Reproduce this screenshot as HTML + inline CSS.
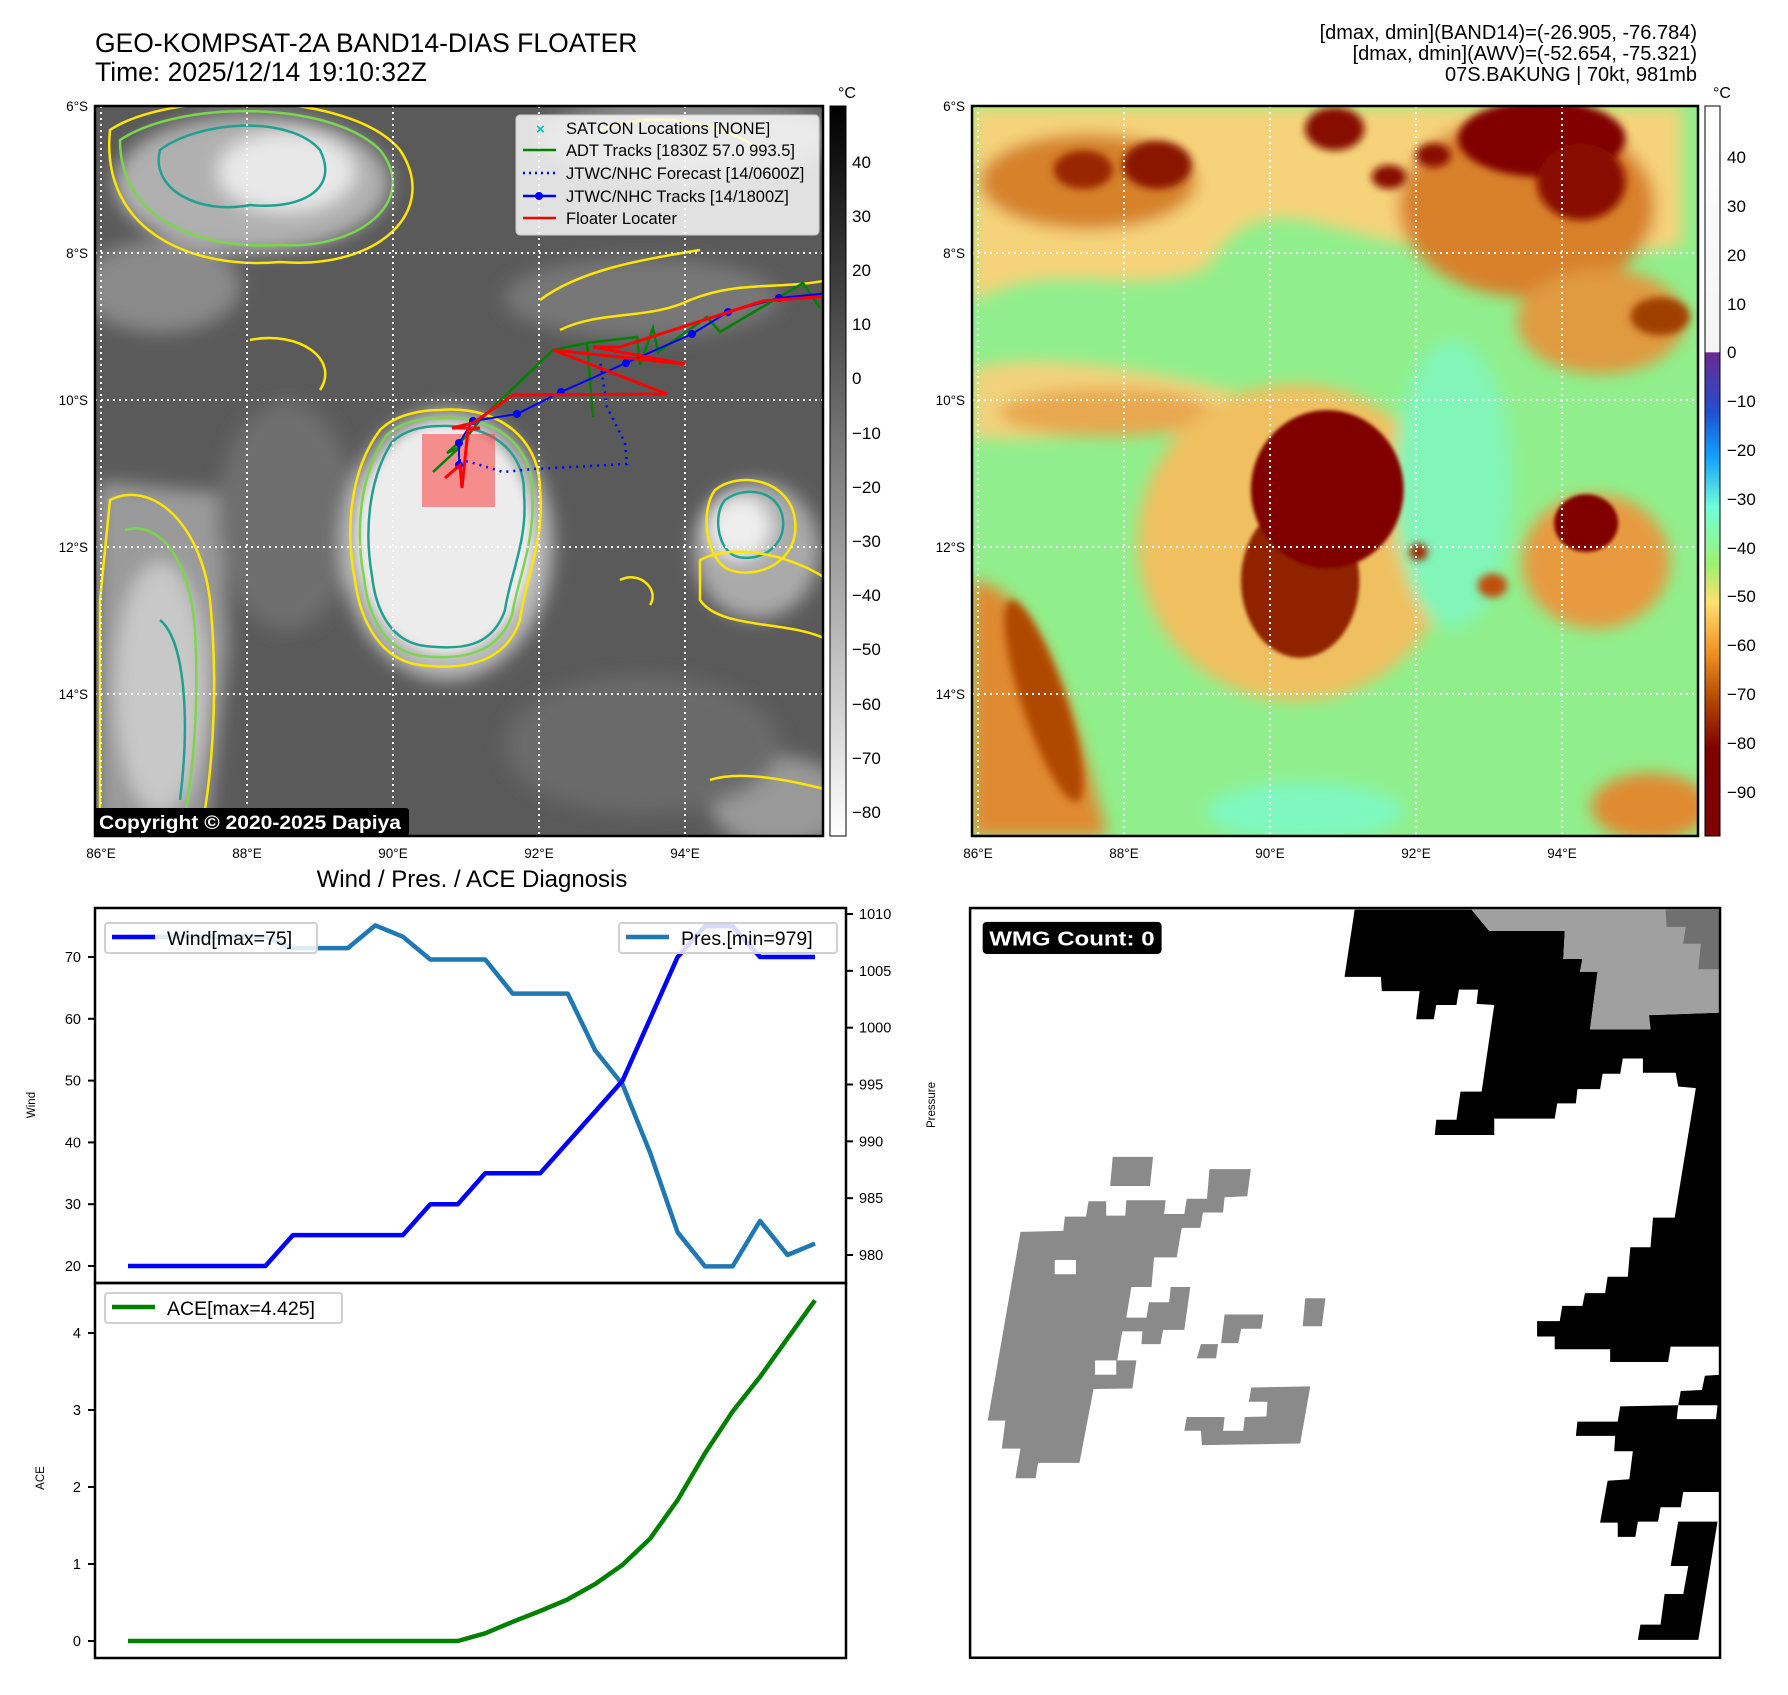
<!DOCTYPE html>
<html><head><meta charset="utf-8"><style>
html,body{margin:0;padding:0;background:#fff}
svg{display:block}
text{font-family:"Liberation Sans","DejaVu Sans",sans-serif}
</style></head><body>
<svg id="root" width="1788" height="1695" viewBox="0 0 1788 1695" xmlns="http://www.w3.org/2000/svg">
<defs>
<filter id="b8" x="-20%" y="-20%" width="140%" height="140%"><feGaussianBlur stdDeviation="8"/></filter>
<filter id="b4" x="-20%" y="-20%" width="140%" height="140%"><feGaussianBlur stdDeviation="4"/></filter>
<filter id="b16" x="-30%" y="-30%" width="160%" height="160%"><feGaussianBlur stdDeviation="16"/></filter>
<clipPath id="clipL"><rect x="95" y="106" width="728" height="730"/></clipPath>
<clipPath id="clipR"><rect x="972" y="106" width="726" height="730"/></clipPath>
<linearGradient id="gbar" x1="0" y1="0" x2="0" y2="1"><stop offset="0" stop-color="#000"/><stop offset="1" stop-color="#fff"/></linearGradient>
<linearGradient id="cbar" x1="0" y1="0" x2="0" y2="1">
<stop offset="0" stop-color="#fff"/><stop offset="0.337" stop-color="#f4f4f4"/>
<stop offset="0.338" stop-color="#6a2a90"/><stop offset="0.42" stop-color="#2050d0"/>
<stop offset="0.48" stop-color="#10a0ff"/><stop offset="0.55" stop-color="#70ffd8"/>
<stop offset="0.63" stop-color="#a0f070"/><stop offset="0.68" stop-color="#ffe070"/>
<stop offset="0.75" stop-color="#f09020"/><stop offset="0.82" stop-color="#b04000"/>
<stop offset="0.88" stop-color="#800000"/><stop offset="1" stop-color="#800000"/></linearGradient>
</defs>

<text x="95" y="52" font-size="26.5">GEO-KOMPSAT-2A BAND14-DIAS FLOATER</text>
<text x="95" y="81" font-size="26.5">Time: 2025/12/14 19:10:32Z</text>
<g font-size="20" text-anchor="end">
<text x="1697" y="39">[dmax, dmin](BAND14)=(-26.905, -76.784)</text>
<text x="1697" y="60">[dmax, dmin](AWV)=(-52.654, -75.321)</text>
<text x="1697" y="81">07S.BAKUNG | 70kt, 981mb</text>
</g>

<!-- LEFT MAP -->
<g clip-path="url(#clipL)">
<rect x="95" y="106" width="728" height="730" fill="#5a5a5a"/>
<g transform="scale(1.14615)">
<g filter="url(#b8)">
<ellipse cx="220" cy="160" rx="120" ry="60" fill="#b0b0b0"/>
<ellipse cx="250" cy="150" rx="60" ry="35" fill="#e8e8e8"/>
<ellipse cx="140" cy="250" rx="70" ry="40" fill="#8a8a8a"/>
<ellipse cx="600" cy="120" rx="130" ry="35" fill="#8a8a8a"/>
<ellipse cx="560" cy="260" rx="120" ry="35" fill="#777"/>
<path d="M90 420 L190 430 L200 560 L180 731 L84 731 L84 430Z" fill="#9a9a9a"/>
<ellipse cx="140" cy="600" rx="40" ry="110" fill="#c8c8c8"/>
<ellipse cx="660" cy="480" rx="55" ry="60" fill="#aaa"/>
<ellipse cx="645" cy="460" rx="28" ry="28" fill="#eee"/>
<ellipse cx="680" cy="700" rx="60" ry="40" fill="#999"/>
<ellipse cx="250" cy="450" rx="60" ry="100" fill="#6e6e6e"/>
<ellipse cx="560" cy="650" rx="120" ry="60" fill="#6a6a6a"/>
<ellipse cx="390" cy="475" rx="92" ry="118" fill="#bdbdbd"/>
</g>
<g filter="url(#b4)"><ellipse cx="388" cy="470" rx="76" ry="100" fill="#ececec"/></g>
</g>
<g fill="none" stroke-width="2.5">
<path d="M440 410 C500 405 540 440 540 490 C545 540 525 580 520 620 C505 665 460 670 420 665 C380 660 360 620 355 580 C345 530 350 470 380 430 C395 415 420 410 440 410Z" stroke="#ffe600"/>
<path d="M440 418 C495 415 533 445 532 492 C536 540 518 578 512 615 C498 655 460 660 422 656 C385 652 368 615 364 578 C355 530 360 474 386 436 C400 422 420 418 440 418Z" stroke="#7cd64c"/>
<path d="M440 426 C490 424 525 450 524 494 C528 540 510 575 505 610 C492 648 460 650 425 646 C392 642 376 612 372 576 C364 530 369 478 392 442 C405 430 422 426 440 426Z" stroke="#20a090"/>
<path d="M160 150 C200 120 290 115 320 150 C340 190 300 210 250 205 C200 215 150 190 160 150Z" stroke="#20a090"/>
<path d="M120 140 C180 100 330 100 380 150 C420 200 360 250 280 245 C200 250 120 220 120 140Z" stroke="#7cd64c"/>
<path d="M110 130 C170 90 350 90 400 150 C440 210 380 270 280 262 C190 270 100 230 110 130Z" stroke="#ffe600"/>
<path d="M110 500 C150 480 200 520 210 600 C220 700 210 790 200 836 L100 836 L100 600Z" stroke="#ffe600"/>
<path d="M125 530 C160 520 190 560 195 630 C200 720 190 800 180 836" stroke="#7cd64c"/>
<path d="M160 620 C185 640 190 720 180 800" stroke="#20a090"/>
<path d="M715 490 C740 470 790 480 795 520 C800 560 760 580 730 570 C705 560 700 510 715 490Z" stroke="#ffe600"/>
<path d="M725 500 C745 485 780 490 783 520 C786 550 755 563 735 556 C717 548 713 514 725 500Z" stroke="#20a090"/>
<path d="M700 560 C740 540 800 560 828 580 L828 640 C790 620 720 630 700 600Z" stroke="#ffe600"/>
<path d="M560 330 C600 310 650 320 690 300 C740 280 780 290 828 280" stroke="#ffe600"/>
<path d="M540 300 C580 270 640 260 700 250" stroke="#ffe600"/>
<path d="M600 130 C650 110 720 120 760 150" stroke="#ffe600"/>
<path d="M250 340 C300 330 340 360 320 390" stroke="#ffe600"/>
<path d="M620 580 C640 570 660 590 650 605" stroke="#ffe600"/>
<path d="M710 780 C740 770 790 780 828 790" stroke="#ffe600"/>
</g>
<g stroke="#fff" stroke-width="2" stroke-dasharray="2,4">
<line x1="247" y1="106" x2="247" y2="836"/><line x1="393" y1="106" x2="393" y2="836"/><line x1="539" y1="106" x2="539" y2="836"/><line x1="685" y1="106" x2="685" y2="836"/><line x1="101" y1="106" x2="101" y2="836"/>
<line x1="95" y1="253" x2="823" y2="253"/><line x1="95" y1="400" x2="823" y2="400"/><line x1="95" y1="547" x2="823" y2="547"/><line x1="95" y1="694" x2="823" y2="694"/>
</g>
<rect x="422" y="434" width="73" height="73" fill="#ff4040" fill-opacity="0.55"/>
<polyline points="459,460 470,462 503,472 533,469 627,464 625,443 607,407 600,360" fill="none" stroke="#0000ff" stroke-width="2.5" stroke-dasharray="2,5"/>
<polyline points="433,472 460,447 447,453 470,433 480,420 553,350 587,343 593,417 587,343 637,337 640,365 653,328 658,352 707,317 720,332 803,283 820,308" fill="none" stroke="#008000" stroke-width="2.5"/>
<g>
<polyline points="459,465 459,443 473,421 517,414 561,392 626,363 692,334 728,312 779,298 830,293" fill="none" stroke="#0000ff" stroke-width="2"/>
<g fill="#0000ff"><circle cx="459" cy="465" r="4"/><circle cx="459" cy="443" r="4"/><circle cx="473" cy="421" r="4"/><circle cx="517" cy="414" r="4"/><circle cx="561" cy="392" r="4"/><circle cx="626" cy="363" r="4"/><circle cx="692" cy="334" r="4"/><circle cx="728" cy="312" r="4"/><circle cx="779" cy="298" r="4"/></g>
</g>
<polyline points="445,478 460,465 462,488 468,430 480,428 452,428 473,423 513,395 667,394 553,350 685,364 593,347 620,347 763,301 830,296" fill="none" stroke="#ff0000" stroke-width="3"/>
</g>
<rect x="95" y="106" width="728" height="730" fill="none" stroke="#000" stroke-width="2.5"/>
<g>
<rect x="516" y="115" width="303" height="120" rx="4" fill="#fff" fill-opacity="0.82" stroke="#ccc"/>
<g font-size="16.5">
<text x="536" y="134" fill="#00bfbf" font-size="15" font-weight="bold">×</text><text x="566" y="134">SATCON Locations [NONE]</text>
<line x1="523" y1="150" x2="556" y2="150" stroke="#008000" stroke-width="2.5"/><text x="566" y="156">ADT Tracks [1830Z 57.0 993.5]</text>
<line x1="523" y1="173" x2="556" y2="173" stroke="#0000ff" stroke-width="2.5" stroke-dasharray="2,4"/><text x="566" y="179">JTWC/NHC Forecast [14/0600Z]</text>
<line x1="523" y1="196" x2="556" y2="196" stroke="#0000ff" stroke-width="2.5"/><circle cx="539" cy="196" r="4" fill="#0000ff"/><text x="566" y="202">JTWC/NHC Tracks [14/1800Z]</text>
<line x1="523" y1="218" x2="556" y2="218" stroke="#ff0000" stroke-width="2.5"/><text x="566" y="224">Floater Locater</text>
</g></g>
<rect x="94" y="808" width="315" height="28" rx="3" fill="#000"/>
<text x="99" y="829" font-size="19" font-weight="bold" fill="#fff" textLength="302" lengthAdjust="spacingAndGlyphs" font-family="DejaVu Sans, sans-serif">Copyright © 2020-2025 Dapiya</text>
<g font-size="13.5">
<g text-anchor="end"><text x="88" y="111">6°S</text><text x="88" y="258">8°S</text><text x="88" y="405">10°S</text><text x="88" y="552">12°S</text><text x="88" y="699">14°S</text></g>
<g text-anchor="middle"><text x="101" y="858">86°E</text><text x="247" y="858">88°E</text><text x="393" y="858">90°E</text><text x="539" y="858">92°E</text><text x="685" y="858">94°E</text></g>
</g>
<g>
<rect x="830" y="106" width="16" height="730" fill="url(#gbar)" stroke="#000"/>
<text x="847" y="98" font-size="16" text-anchor="middle">°C</text>
<g font-size="17"><text x="852" y="168">40</text><text x="852" y="222">30</text><text x="852" y="276">20</text><text x="852" y="330">10</text><text x="852" y="384">0</text><text x="852" y="439">−10</text><text x="852" y="493">−20</text><text x="852" y="547">−30</text><text x="852" y="601">−40</text><text x="852" y="655">−50</text><text x="852" y="710">−60</text><text x="852" y="764">−70</text><text x="852" y="818">−80</text></g>
</g>

<!-- RIGHT MAP -->
<g clip-path="url(#clipR)">
<rect x="972" y="106" width="726" height="730" fill="#90ef8c"/>
<g transform="translate(960,100) scale(0.493,0.4808)">
<g filter="url(#b16)">
<path d="M22 15 L1465 15 L1465 300 C1300 350 1100 250 900 300 C700 260 600 180 500 350 C350 420 200 320 22 420Z" fill="#f6d37a"/>
<path d="M22 560 C150 520 400 560 600 620 L500 700 C300 680 150 720 22 700Z" fill="#f2d27c"/>
<ellipse cx="260" cy="170" rx="220" ry="100" fill="#d6822c"/>
<ellipse cx="1150" cy="220" rx="260" ry="190" fill="#d8802c"/>
<ellipse cx="1300" cy="460" rx="170" ry="110" fill="#e09a40"/>
<ellipse cx="300" cy="650" rx="220" ry="50" fill="#e8a850"/>
<ellipse cx="680" cy="920" rx="320" ry="330" fill="#f0c060"/>
<ellipse cx="1290" cy="960" rx="150" ry="140" fill="#e89a40"/>
<path d="M22 1000 C120 1000 200 1150 300 1532 L22 1532Z" fill="#e08a30"/>
<ellipse cx="1400" cy="1470" rx="120" ry="70" fill="#e08a30"/>
<ellipse cx="700" cy="1480" rx="200" ry="60" fill="#7ff8c0"/>
<ellipse cx="1000" cy="800" rx="120" ry="300" fill="#82f5b8"/>
</g>
<g filter="url(#b8)">
<ellipse cx="400" cy="135" rx="70" ry="50" fill="#8a1800"/>
<ellipse cx="250" cy="145" rx="60" ry="40" fill="#982800"/>
<ellipse cx="760" cy="60" rx="60" ry="45" fill="#860800"/>
<ellipse cx="1180" cy="80" rx="170" ry="80" fill="#800000"/>
<ellipse cx="1260" cy="170" rx="90" ry="80" fill="#880800"/>
<ellipse cx="870" cy="160" rx="35" ry="25" fill="#880800"/>
<ellipse cx="960" cy="115" rx="35" ry="25" fill="#880800"/>
<ellipse cx="1420" cy="450" rx="60" ry="40" fill="#a04000"/>
<ellipse cx="170" cy="1250" rx="45" ry="220" fill="#b04800" transform="rotate(-18 170 1250)"/>
<ellipse cx="1080" cy="1010" rx="30" ry="25" fill="#c05010"/>
<ellipse cx="930" cy="940" rx="18" ry="18" fill="#a02800"/>
</g>
<g filter="url(#b4)">
<ellipse cx="690" cy="1000" rx="120" ry="160" fill="#902000"/>
<ellipse cx="745" cy="810" rx="155" ry="165" fill="#800000"/>
<ellipse cx="1270" cy="880" rx="65" ry="60" fill="#800000"/>
</g>
</g>
<g stroke="#fff" stroke-width="2" stroke-dasharray="2,4">
<line x1="978" y1="106" x2="978" y2="836"/><line x1="1124" y1="106" x2="1124" y2="836"/><line x1="1270" y1="106" x2="1270" y2="836"/><line x1="1416" y1="106" x2="1416" y2="836"/><line x1="1562" y1="106" x2="1562" y2="836"/>
<line x1="972" y1="253" x2="1698" y2="253"/><line x1="972" y1="400" x2="1698" y2="400"/><line x1="972" y1="547" x2="1698" y2="547"/><line x1="972" y1="694" x2="1698" y2="694"/>
</g>
</g>
<rect x="972" y="106" width="726" height="730" fill="none" stroke="#000" stroke-width="2.5"/>
<g font-size="13.5">
<g text-anchor="end"><text x="965" y="111">6°S</text><text x="965" y="258">8°S</text><text x="965" y="405">10°S</text><text x="965" y="552">12°S</text><text x="965" y="699">14°S</text></g>
<g text-anchor="middle"><text x="978" y="858">86°E</text><text x="1124" y="858">88°E</text><text x="1270" y="858">90°E</text><text x="1416" y="858">92°E</text><text x="1562" y="858">94°E</text></g>
</g>
<g>
<rect x="1705" y="106" width="15" height="730" fill="url(#cbar)" stroke="#000"/>
<text x="1722" y="98" font-size="16" text-anchor="middle">°C</text>
<g font-size="17"><text x="1727" y="163">40</text><text x="1727" y="212">30</text><text x="1727" y="261">20</text><text x="1727" y="310">10</text><text x="1727" y="358">0</text><text x="1727" y="407">−10</text><text x="1727" y="456">−20</text><text x="1727" y="505">−30</text><text x="1727" y="554">−40</text><text x="1727" y="602">−50</text><text x="1727" y="651">−60</text><text x="1727" y="700">−70</text><text x="1727" y="749">−80</text><text x="1727" y="798">−90</text></g>
</g>

<!-- WMG panel -->
<g transform="translate(960,880) scale(0.504,0.510)">
<rect x="20" y="55" width="1488" height="1470" fill="#fff"/>
<polygon fill="#000" points="783,58 1015,58 1050,100 1200,100 1197,155 1235,155 1230,180 1265,180 1250,293 1370,293 1367,265 1508,260 1508,915 1410,915 1405,945 1290,945 1290,920 1180,920 1180,895 1145,895 1145,865 1190,865 1195,835 1235,835 1240,810 1280,810 1285,778 1325,778 1330,720 1370,720 1375,662 1418,662 1460,408 1425,405 1420,378 1355,378 1355,350 1315,350 1310,380 1275,380 1270,410 1225,410 1222,438 1185,438 1180,468 1060,468 1060,500 942,500 945,470 985,470 993,415 1035,415 1060,245 1025,243 1028,215 990,215 985,245 945,245 940,273 905,273 912,218 837,218 835,190 763,190"/>
<polygon fill="#a0a0a0" points="1015,58 1508,58 1508,260 1367,265 1370,293 1250,293 1265,180 1230,180 1235,155 1197,155 1200,100 1050,100"/>
<polygon fill="#707070" points="1400,58 1508,58 1508,175 1465,175 1470,125 1435,125 1440,92 1402,92"/>
<polygon fill="#000" points="1508,970 1478,972 1472,1000 1430,1002 1425,1030 1310,1032 1305,1062 1225,1062 1222,1090 1300,1090 1298,1120 1335,1120 1328,1175 1285,1178 1270,1260 1305,1260 1305,1288 1340,1288 1345,1258 1385,1258 1390,1230 1430,1230 1435,1200 1508,1200"/>
<polygon fill="#fff" points="1425,1030 1503,1030 1500,1057 1422,1057"/>
<polygon fill="#000" points="1425,1258 1503,1258 1465,1490 1345,1490 1350,1460 1390,1460 1398,1400 1435,1400 1445,1345 1410,1345"/>
<g fill="#8a8a8a">
<polygon points="120,690 205,688 208,660 250,660 255,630 290,630 290,658 328,658 330,628 408,628 405,655 445,655 450,625 490,625 495,567 577,567 570,620 525,622 522,652 482,652 477,682 440,682 430,740 385,740 380,798 340,798 330,858 370,858 375,828 415,828 418,798 457,798 445,882 403,882 398,910 360,910 362,885 322,885 312,942 350,942 342,997 265,998 237,1143 155,1143 150,1173 110,1173 120,1115 83,1115 90,1060 55,1060"/>
<polygon points="303,543 383,543 377,600 298,600"/>
<polygon points="525,852 602,852 598,880 558,880 552,908 518,908"/>
<polygon points="478,910 512,910 508,938 470,938"/>
<polygon points="685,820 725,820 718,875 680,875"/>
<polygon points="578,995 695,993 675,1105 480,1108 478,1080 445,1080 450,1053 525,1053 522,1080 562,1080 565,1053 608,1052 610,1023 573,1023"/>
</g>
<rect x="188" y="745" width="42" height="28" fill="#fff"/>
<rect x="268" y="942" width="42" height="28" fill="#fff"/>
<rect x="20" y="55" width="1488" height="1470" fill="none" stroke="#000" stroke-width="5"/>
<rect x="45" y="82" width="355" height="63" rx="8" fill="#000"/>
<text x="58" y="128" font-size="40" font-weight="bold" fill="#fff" textLength="328" lengthAdjust="spacingAndGlyphs" font-family="DejaVu Sans, sans-serif">WMG Count: 0</text>
</g>

<!-- CHART -->
<text x="472" y="887" font-size="24" text-anchor="middle">Wind / Pres. / ACE Diagnosis</text>
<g id="chart"></g>
</svg>
<script>
const wind = [20,20,20,20,20,20,25,25,25,25,25,30,30,35,35,35,40,45,50,60,70,75,75,70,70,70];
const pres = [1008,1008,1008,1008,1008,1008,1007,1007,1007,1009,1008,1006,1006,1006,1003,1003,1003,998,995,989,982,979,979,983,980,981];
const ace = [0,0,0,0,0,0,0,0,0,0,0,0,0,0.1,0.25,0.39,0.54,0.74,0.99,1.33,1.83,2.44,2.98,3.43,3.93,4.425];
const windTicks = [20,30,40,50,60,70];
const presTicks = [980,985,990,995,1000,1005,1010];
const aceTicks = [0,1,2,3,4];

const NS = 'http://www.w3.org/2000/svg';
const chart = document.getElementById('chart');
const L = 95, R = 846, T1 = 908, M = 1283, B = 1658;
function xS(i){ return 128 + i * (815 - 128) / (wind.length - 1); }
function yWind(v){ return 1266 - (v - 20) * (1266 - 957) / 50; }
function yPres(v){ return 1255 - (v - 980) * (1255 - 914) / 30; }
function yAce(v){ return 1641 - v * (1641 - 1333) / 4; }
function mk(tag, attrs, parent){
  const e = document.createElementNS(NS, tag);
  for (const k in attrs) e.setAttribute(k, attrs[k]);
  (parent || chart).appendChild(e);
  return e;
}
function line(vals, yf, color, name){
  const pts = vals.map((v,i)=> xS(i).toFixed(1)+','+yf(v).toFixed(1)).join(' ');
  const p = mk('polyline', {points: pts, fill:'none', stroke: color, 'stroke-width': 4.5, 'stroke-linejoin':'round'});
  
  
}
function tick(x1,y,x2,label,tx,anchor,name){
  mk('line',{x1:x1,y1:y,x2:x2,y2:y,stroke:'#000','stroke-width':2});
  const t = mk('text',{x:tx,y:y+5,'font-size':14.5,'text-anchor':anchor});
  t.textContent = label;
  
  
}
mk('rect',{x:L,y:T1,width:R-L,height:M-T1,fill:'#fff'});
mk('rect',{x:L,y:M,width:R-L,height:B-M,fill:'#fff'});
windTicks.forEach(v=>tick(L-7,yWind(v),L,v,L-14,'end','wind-tick-label'));
presTicks.forEach(v=>tick(R,yPres(v),R+7,v,R+13,'start','pressure-tick-label'));
aceTicks.forEach(v=>tick(L-7,yAce(v),L,v,L-14,'end','ace-tick-label'));
line(pres, yPres, '#1f77b4', 'pressure-line');
line(wind, yWind, '#0000ff', 'wind-line');
line(ace, yAce, '#008000', 'ace-line');
mk('rect',{x:L,y:T1,width:R-L,height:M-T1,fill:'none',stroke:'#000','stroke-width':2.5});
mk('rect',{x:L,y:M,width:R-L,height:B-M,fill:'none',stroke:'#000','stroke-width':2.5});
function ylab(x,y,txt,name){
  const t = mk('text',{x:x,y:y,'font-size':11.5,'text-anchor':'middle',transform:'rotate(-90 '+x+' '+y+')'});
  t.textContent = txt;
  
  
}
ylab(35,1105,'Wind','wind-axis-title');
ylab(935,1105,'Pressure','pressure-axis-title');
ylab(44,1478,'ACE','ace-axis-title');
function legend(x,y,w,color,txt,name){
  const g = mk('g',{});
  
  
  mk('rect',{x:x,y:y,width:w,height:30,rx:3,fill:'#fff','fill-opacity':0.85,stroke:'#d0d0d0','stroke-width':2},g);
  mk('line',{x1:x+7,y1:y+14,x2:x+50,y2:y+14,stroke:color,'stroke-width':4.5},g);
  const t = mk('text',{x:x+62,y:y+22,'font-size':19.5},g);
  t.textContent = txt;
}
legend(105,923,212,'#0000ff','Wind[max=75]','wind-legend');
legend(619,923,218,'#1f77b4','Pres.[min=979]','pressure-legend');
legend(105,1293,237,'#008000','ACE[max=4.425]','ace-legend');
</script>
</body></html>
